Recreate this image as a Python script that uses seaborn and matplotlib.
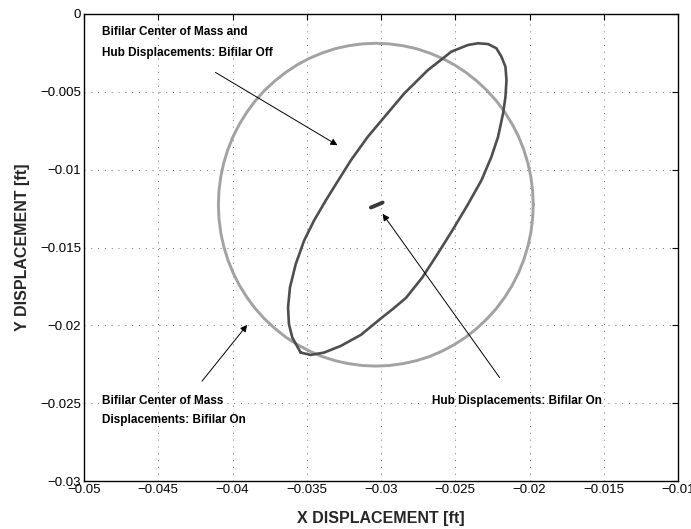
import matplotlib
matplotlib.use("Agg")
import matplotlib.pyplot as plt
import seaborn as sns
import pandas as pd

# Bifilar center of mass orbit with bifilar on (light gray)
cm_on_x = [-0.01975, -0.01979, -0.01991, -0.02011, -0.02039, -0.02074, -0.02117, -0.02167,
           -0.02223, -0.02286, -0.02354, -0.02427, -0.02505, -0.02587, -0.02672, -0.02761,
           -0.02851, -0.02943, -0.03035, -0.03127, -0.03219, -0.03309, -0.03398, -0.03483,
           -0.03565, -0.03643, -0.03716, -0.03785, -0.03847, -0.03903, -0.03953, -0.03996,
           -0.04031, -0.04059, -0.04079, -0.04091, -0.04095, -0.04091, -0.04079, -0.04059,
           -0.04031, -0.03996, -0.03953, -0.03903, -0.03847, -0.03785, -0.03716, -0.03643,
           -0.03565, -0.03483, -0.03398, -0.03309, -0.03219, -0.03127, -0.03035, -0.02943,
           -0.02851, -0.02761, -0.02672, -0.02587, -0.02505, -0.02427, -0.02354, -0.02286,
           -0.02223, -0.02167, -0.02117, -0.02074, -0.02039, -0.02011, -0.01991, -0.01979,
           -0.01975]
cm_on_y = [-0.01225, -0.01135, -0.01045, -0.00957, -0.00870, -0.00787, -0.00707, -0.00630,
           -0.00558, -0.00492, -0.00431, -0.00376, -0.00327, -0.00285, -0.00251, -0.00223,
           -0.00204, -0.00192, -0.00188, -0.00192, -0.00204, -0.00223, -0.00251, -0.00285,
           -0.00327, -0.00376, -0.00431, -0.00492, -0.00558, -0.00630, -0.00707, -0.00787,
           -0.00870, -0.00957, -0.01045, -0.01135, -0.01225, -0.01315, -0.01405, -0.01493,
           -0.01580, -0.01663, -0.01744, -0.01820, -0.01892, -0.01958, -0.02019, -0.02075,
           -0.02123, -0.02165, -0.02200, -0.02227, -0.02246, -0.02258, -0.02262, -0.02258,
           -0.02246, -0.02227, -0.02200, -0.02165, -0.02123, -0.02075, -0.02019, -0.01958,
           -0.01892, -0.01820, -0.01744, -0.01663, -0.01580, -0.01493, -0.01405, -0.01315,
           -0.01225]

# Bifilar center of mass and hub orbit with bifilar off (dark gray)
off_x = [-0.03541, -0.03597, -0.03620, -0.03626, -0.03613, -0.03574, -0.03518, -0.03451,
         -0.03372, -0.03316, -0.03203, -0.03090, -0.02973, -0.02843, -0.02684, -0.02583,
         -0.02527, -0.02414, -0.02347, -0.02279, -0.02223, -0.02189, -0.02162, -0.02155,
         -0.02162, -0.02178, -0.02212, -0.02257, -0.02324, -0.02419, -0.02520, -0.02622,
         -0.02723, -0.02831, -0.02919, -0.03000, -0.03135, -0.03270, -0.03383, -0.03473,
         -0.03541]
off_y = [-0.02175, -0.02079, -0.01992, -0.01885, -0.01756, -0.01606, -0.01456, -0.01327,
         -0.01198, -0.01112, -0.00940, -0.00790, -0.00657, -0.00510, -0.00360, -0.00285,
         -0.00242, -0.00199, -0.00188, -0.00193, -0.00220, -0.00274, -0.00339, -0.00425,
         -0.00532, -0.00639, -0.00790, -0.00919, -0.01069, -0.01230, -0.01391, -0.01546,
         -0.01694, -0.01823, -0.01894, -0.01955, -0.02061, -0.02132, -0.02175, -0.02190,
         -0.02175]

# Hub orbit with bifilar on (small dark mark)
hub_on_x = [-0.03068, -0.03040, -0.03015, -0.02989]
hub_on_y = [-0.01243, -0.01232, -0.01222, -0.01211]

x_ticks = [-0.05, -0.045, -0.04, -0.035, -0.03, -0.025, -0.02, -0.015, -0.01]
x_tick_labels = ["\u22120.05", "\u22120.045", "\u22120.04", "\u22120.035", "\u22120.03",
                 "\u22120.025", "\u22120.02", "\u22120.015", "\u22120.01"]
y_ticks = [0, -0.005, -0.01, -0.015, -0.02, -0.025, -0.03]
y_tick_labels = ["0", "\u22120.005", "\u22120.01", "\u22120.015", "\u22120.02",
                 "\u22120.025", "\u22120.03"]

sns.set_style("white")
plt.rcParams["font.family"] = ["Liberation Sans", "DejaVu Sans"]

fig = plt.figure(figsize=(6.91, 5.29), dpi=100)
ax = fig.add_axes([84 / 691, 48 / 529, 594 / 691, 467 / 529])

cm_df = pd.DataFrame({"x": cm_on_x, "y": cm_on_y})
off_df = pd.DataFrame({"x": off_x, "y": off_y})
hub_df = pd.DataFrame({"x": hub_on_x, "y": hub_on_y})

sns.lineplot(data=cm_df, x="x", y="y", sort=False, estimator=None, ax=ax,
             color="#a2a2a2", lw=2.1, solid_joinstyle="round", solid_capstyle="round")
sns.lineplot(data=off_df, x="x", y="y", sort=False, estimator=None, ax=ax,
             color="#4e4e4e", lw=1.9, solid_joinstyle="round", solid_capstyle="round")
sns.lineplot(data=hub_df, x="x", y="y", sort=False, estimator=None, ax=ax,
             color="#3a3a3a", lw=2.8, solid_capstyle="round")

ax.set_xlim(-0.05, -0.01)
ax.set_ylim(-0.03, 0)
ax.set_xticks(x_ticks)
ax.set_xticklabels(x_tick_labels)
ax.set_yticks(y_ticks)
ax.set_yticklabels(y_tick_labels)
ax.tick_params(direction="in", length=4, width=0.8, top=True, right=True,
               labelsize=9.5, pad=2, colors="black")
ax.grid(True, color="#6e6e6e", linestyle=(0, (1, 6)), linewidth=0.7)
for s in ax.spines.values():
    s.set_visible(True)
    s.set_color("black")
    s.set_linewidth(1.0)

ax.set_xlabel("X DISPLACEMENT [ft]", fontsize=11.5, fontweight="bold", labelpad=11)
ax.set_ylabel("Y DISPLACEMENT [ft]", fontsize=11.5, fontweight="bold", labelpad=7)

txt = dict(fontsize=8.45, fontweight="bold", ha="left", va="center", color="black")
ax.text(-0.04880, -0.00113, "Bifilar Center of Mass and", **txt)
ax.text(-0.04880, -0.00253, "Hub Displacements: Bifilar Off", **txt)
ax.text(-0.04880, -0.02486, "Bifilar Center of Mass", **txt)
ax.text(-0.04880, -0.02605, "Displacements: Bifilar On", **txt)
ax.text(-0.02655, -0.02486, "Hub Displacements: Bifilar On", **txt)

arrow = dict(arrowstyle="-|>", color="black", lw=0.7, mutation_scale=10,
             shrinkA=0, shrinkB=0)
ax.annotate("", xy=(-0.03293, -0.00843), xytext=(-0.04115, -0.00375), arrowprops=arrow)
ax.annotate("", xy=(-0.03901, -0.01997), xytext=(-0.04205, -0.02358), arrowprops=arrow)
ax.annotate("", xy=(-0.02989, -0.01284), xytext=(-0.02201, -0.02336), arrowprops=arrow)

fig.savefig("out.png", dpi=100)
